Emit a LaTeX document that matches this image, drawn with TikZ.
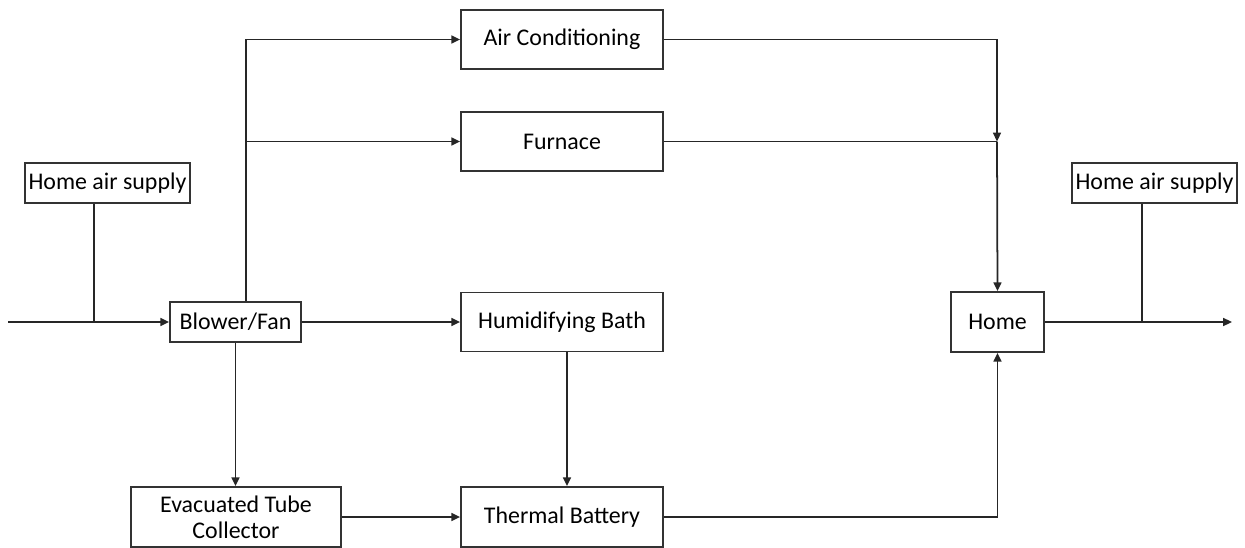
\documentclass[tikz,border=0pt]{standalone}
\usepackage{fontspec}
\setmainfont{Carlito}
\usetikzlibrary{arrows.meta,positioning}

\begin{document}
\begin{tikzpicture}[x=0.02cm,y=-0.02cm,>={Triangle[length=5pt,width=4.5pt]},
  blk/.style 2 args={draw=black!80,line width=1pt,inner sep=0pt,align=center,minimum width=#1,minimum height=#2,font=\fontsize{13.6}{15}\selectfont},
  link/.style={line width=1pt,draw=black!85}]
\useasboundingbox (0,0) rectangle (1245,548);
% boxes
\node[blk={4.04cm}{1.18cm}] (ac) at (562,39.5) {Air Conditioning};
\node[blk={4.04cm}{1.18cm}] (furn) at (562,141.5) {Furnace};
\node[blk={4.04cm}{1.18cm}] (hum) at (562,322) {Humidifying Bath};
\node[blk={4.04cm}{1.2cm}] (tb) at (562,517) {Thermal Battery};
\node[blk={3.3cm}{0.8cm}] (supL) at (107.5,183) {Home air supply};
\node[blk={3.3cm}{0.8cm}] (supR) at (1154.5,183) {Home air supply};
\node[blk={2.62cm}{0.8cm}] (blower) at (235.5,322) {Blower/Fan};
\node[blk={4.2cm}{1.2cm}] (etc) at (236,517) {Evacuated Tube\\Collector};
\node[blk={1.86cm}{1.2cm}] (home) at (997.5,322) {Home};
% tap points
\coordinate (in) at (8,322);
\coordinate (jL) at (94,322);
\coordinate (btap) at (246,0);
\coordinate (htap) at (567,0);
\coordinate (mix) at (997,141.5);
\coordinate (jR) at (1142,322);
\coordinate (out) at (1232,322);
% connectors
\draw[link,->] (in) -- (blower.west);
\draw[link] (jL |- supL.south) -- (jL);
\draw[link,->] (btap |- blower.north) |- (ac.west);
\draw[link,->] (btap |- furn.west) -- (furn.west);
\draw[link,->] (blower.east) -- (hum.west);
\draw[link,->] (blower.south) -- (blower.south |- etc.north);
\draw[link,->] (etc.east) -- (etc.east -| tb.west);
\draw[link,->] (htap |- hum.south) -- (htap |- tb.north);
\draw[link,->] (ac.east) -| (mix);
\draw[link] (furn.east) -- (mix);
\draw[link,->] (mix) -- (home.north);
\draw[link,->] (tb.east) -| (home.south);
\draw[link,->] (home.east) -- (out);
\draw[link] (jR |- supR.south) -- (jR);
\end{tikzpicture}
\end{document}
